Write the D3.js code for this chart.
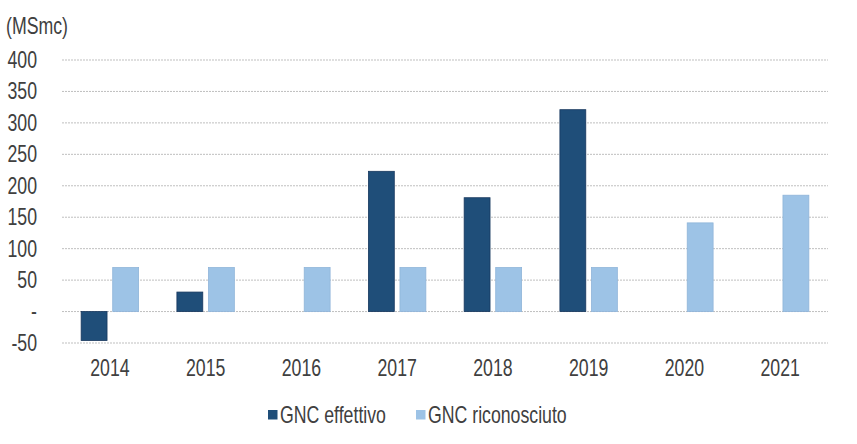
<!DOCTYPE html>
<html>
<head>
<meta charset="utf-8">
<script src="https://cdn.jsdelivr.net/npm/d3@7"></script>
<style>
  body { margin: 0; background: #fff; }
  text { font-family: "Liberation Sans Narrow", "Arial Narrow", "Liberation Sans", Arial, sans-serif; fill: #404040; }
</style>
</head>
<body>
<div id="chart"></div>
<script>
// data
const years = ['2014', '2015', '2016', '2017', '2018', '2019', '2020', '2021'];
const effettivo = [-46, 31, null, 223, 181, 321, null, null];
const riconosciuto = [70, 70, 70, 70, 70, 70, 141, 185];
const seriesNames = ['GNC effettivo', 'GNC riconosciuto'];
const colors = ['#1f4e79', '#9dc3e6'];
const yTicks = [-50, 0, 50, 100, 150, 200, 250, 300, 350, 400];

const width = 857;
const height = 444;
const margin = { left: 62, top: 60, right: 29, bottom: 101 };
const squeeze = 0.77; // narrow font look
const fontSize = '23px';

const svg = d3.select('#chart').append('svg')
    .attr('width', width)
    .attr('height', height);

const x = d3.scaleBand()
    .domain(years)
    .range([margin.left, width - margin.right]);

const y = d3.scaleLinear()
    .domain([-50, 400])
    .range([height - margin.bottom, margin.top]);

const inner = d3.scaleBand()
    .domain([0, 1])
    .range([0, x.bandwidth() * 0.6])
    .paddingInner(0.18);

const offset = x.bandwidth() * 0.2;

// text placed at px,py and squeezed horizontally
function narrowText(px, py, str, anchor) {
    return svg.append('text')
        .attr('transform', 'translate(' + px + ',' + py + ') scale(' + squeeze + ',1)')
        .attr('text-anchor', anchor || 'start')
        .style('font-size', fontSize)
        .text(str);
}

// gridlines
svg.append('g')
    .selectAll('line')
    .data(yTicks)
    .enter().append('line')
    .attr('x1', margin.left)
    .attr('x2', width - margin.right)
    .attr('y1', d => y(d))
    .attr('y2', d => y(d))
    .attr('stroke', '#bfbfbf')
    .attr('stroke-width', 1)
    .attr('stroke-dasharray', '2,1');

// y axis
const yAxis = d3.axisLeft(y)
    .tickValues(yTicks)
    .tickSize(0)
    .tickPadding(25)
    .tickFormat(d => d === 0 ? '-' : d);

svg.append('g')
    .attr('transform', 'translate(' + margin.left + ',0)')
    .call(yAxis)
    .call(g => g.select('.domain').remove())
    .selectAll('text')
    .style('font-size', fontSize)
    .attr('fill', '#404040')
    .attr('x', -25 / squeeze)
    .attr('transform', 'scale(' + squeeze + ',1)');

// x axis
const xAxis = d3.axisBottom(x).tickSize(0).tickPadding(17);
svg.append('g')
    .attr('transform', 'translate(0,' + y(-50) + ')')
    .call(xAxis)
    .call(g => g.select('.domain').remove())
    .selectAll('text')
    .style('font-size', fontSize)
    .attr('fill', '#404040')
    .attr('transform', 'scale(' + squeeze + ',1)');

// unit label
narrowText(6, 34, '(MSmc)');

// bars
[effettivo, riconosciuto].forEach((vals, s) => {
    svg.append('g')
        .selectAll('rect')
        .data(vals.map((v, i) => ({ year: years[i], v: v })).filter(d => d.v !== null))
        .enter().append('rect')
        .attr('x', d => x(d.year) + offset + inner(s))
        .attr('width', inner.bandwidth())
        .attr('y', d => y(Math.max(0, d.v)))
        .attr('height', d => Math.abs(y(d.v) - y(0)))
        .attr('fill', colors[s])
        .attr('stroke', s === 0 ? '#17375e' : '#8fb4d9')
        .attr('stroke-width', 0.8);
});

// legend
const legX = [268, 416];
seriesNames.forEach((name, i) => {
    svg.append('rect')
        .attr('x', legX[i])
        .attr('y', 410)
        .attr('width', 9.5)
        .attr('height', 9.5)
        .attr('fill', colors[i]);
    narrowText(legX[i] + 12, 423, name);
});
</script>
</body>
</html>
